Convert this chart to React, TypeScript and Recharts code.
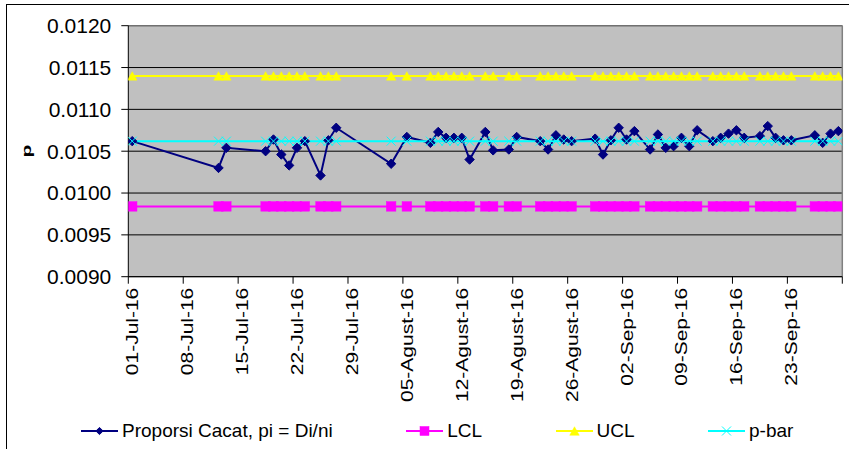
import React from 'react';
import { LineChart, Line, XAxis, YAxis, CartesianGrid, Legend, ReferenceLine, Label } from 'recharts';

// ---- data ----
const sampleDates = [
  '2016-07-01', '2016-07-12', '2016-07-13', '2016-07-18', '2016-07-19', '2016-07-20', '2016-07-21',
  '2016-07-22', '2016-07-23', '2016-07-25', '2016-07-26', '2016-07-27',
  '2016-08-03', '2016-08-05', '2016-08-08', '2016-08-09', '2016-08-10', '2016-08-11', '2016-08-12',
  '2016-08-13', '2016-08-15', '2016-08-16', '2016-08-18', '2016-08-19', '2016-08-22', '2016-08-23',
  '2016-08-24', '2016-08-25', '2016-08-26', '2016-08-29', '2016-08-30', '2016-08-31',
  '2016-09-01', '2016-09-02', '2016-09-03', '2016-09-05', '2016-09-06', '2016-09-07', '2016-09-08',
  '2016-09-09', '2016-09-10', '2016-09-11', '2016-09-13', '2016-09-14', '2016-09-15', '2016-09-16',
  '2016-09-17', '2016-09-19', '2016-09-20', '2016-09-21', '2016-09-22', '2016-09-23', '2016-09-26',
  '2016-09-27', '2016-09-28', '2016-09-29',
];

const proportions = [
  0.01062, 0.01030, 0.01054, 0.01050, 0.01064, 0.01046, 0.01033,
  0.01054, 0.01062, 0.01021, 0.01063, 0.01078,
  0.01035, 0.01067, 0.01060, 0.01073, 0.01066, 0.01066, 0.01066,
  0.01040, 0.01073, 0.01051, 0.01052, 0.01067, 0.01062, 0.01052,
  0.01069, 0.01064, 0.01062, 0.01065, 0.01046, 0.01063,
  0.01078, 0.01064, 0.01074, 0.01052, 0.01070, 0.01054, 0.01056,
  0.01066, 0.01056, 0.01075, 0.01062, 0.01066, 0.01071, 0.01075,
  0.01066, 0.01068, 0.01080, 0.01066, 0.01063, 0.01063, 0.01069,
  0.01060, 0.01071, 0.01074,
];

const LCL_VALUE = 0.00984;
const UCL_VALUE = 0.0114;
const PBAR_VALUE = 0.01062;

const xTickLabels = [
  '01-Jul-16', '08-Jul-16', '15-Jul-16', '22-Jul-16', '29-Jul-16',
  '05-Agust-16', '12-Agust-16', '19-Agust-16', '26-Agust-16',
  '02-Sep-16', '09-Sep-16', '16-Sep-16', '23-Sep-16',
];

const yTicks = [0.009, 0.0095, 0.01, 0.0105, 0.011, 0.0115, 0.012];

const seriesKeys = ['p', 'lcl', 'ucl', 'pbar'];
const seriesNames = {
  p: 'Proporsi Cacat, pi = Di/ni',
  lcl: 'LCL',
  ucl: 'UCL',
  pbar: 'p-bar',
};

// ---- derived table ----
const START = Date.UTC(2016, 6, 1);
const END = Date.UTC(2016, 8, 30);
const DAY = 86400000;
const dayIndex = (iso: string) => (Date.parse(iso + 'T00:00:00Z') - START) / DAY;
const totalDays = (END - START) / DAY; // 91

const data = sampleDates.map((d, i) => ({
  x: dayIndex(d) + 0.5,
  p: proportions[i],
  lcl: LCL_VALUE,
  ucl: UCL_VALUE,
  pbar: PBAR_VALUE,
}));

const xTicks = xTickLabels.map((_, i) => i * 7).concat([totalDays]);

const FONT = '"Liberation Sans", Arial, sans-serif';
const NAVY = '#000080';
const MAGENTA = '#FF00FF';
const YELLOW = '#FFFF00';
const CYAN = '#00FFFF';

// ---- marker shapes ----
const diamondPath = (cx: number, cy: number, r: number) =>
  `M${cx},${cy - r}L${cx + r},${cy}L${cx},${cy + r}L${cx - r},${cy}Z`;
const trianglePath = (cx: number, cy: number, w: number, h: number) =>
  `M${cx},${cy - h / 2}L${cx + w / 2},${cy + h / 2}L${cx - w / 2},${cy + h / 2}Z`;

const Marker = ({ kind, cx, cy, small }: { kind: string; cx: number; cy: number; small?: boolean }) => {
  if (cx == null || cy == null) return null;
  if (kind === 'p') {
    const r = small ? 3.6 : 4.7;
    return <path d={diamondPath(cx, cy, r)} fill={NAVY} stroke={NAVY} strokeWidth={1} />;
  }
  if (kind === 'lcl') {
    const s = small ? 9 : 9.5;
    return <rect x={cx - s / 2} y={cy - s / 2} width={s} height={s} fill={MAGENTA} stroke={MAGENTA} strokeWidth={0.5} />;
  }
  if (kind === 'ucl') {
    return <path d={trianglePath(cx, cy, 9.5, 8.5)} fill={YELLOW} stroke={YELLOW} strokeWidth={0.5} />;
  }
  const r = 4.5;
  return (
    <g stroke={CYAN} strokeWidth={1}>
      <line x1={cx - r} y1={cy - r} x2={cx + r} y2={cy + r} />
      <line x1={cx - r} y1={cy + r} x2={cx + r} y2={cy - r} />
    </g>
  );
};

const makeDot = (kind: string) => (props: any) => (
  <Marker key={`${kind}-${props.index}`} kind={kind} cx={props.cx} cy={props.cy} />
);

// ---- axis ticks ----
const XTick = (props: any) => {
  const { x, y, payload } = props;
  const idx = xTicks.indexOf(payload.value);
  const label = idx >= 0 && idx < xTickLabels.length ? xTickLabels[idx] : '';
  if (!label) return null;
  return (
    <text
      transform={`translate(${x + 3.9},${y}) rotate(-90) scale(1,0.8)`}
      textAnchor="end"
      dy="0.36em"
      fontSize={21}
      fontFamily={FONT}
      fill="#000"
    >
      {label}
    </text>
  );
};

const renderLegend = (props: any) => {
  const payload = [...(props.payload || [])].sort(
    (a: any, b: any) => seriesKeys.indexOf(a.dataKey) - seriesKeys.indexOf(b.dataKey)
  );
  return (
    <div style={{ display: 'flex', alignItems: 'center', gap: 73.5, fontFamily: FONT, fontSize: 19, color: '#000', whiteSpace: 'nowrap' }}>
      {payload.map((entry: any) => {
        const key = entry.dataKey as string;
        const color = entry.color;
        return (
          <div key={key} style={{ display: 'flex', alignItems: 'center' }}>
            <svg width={37} height={14} style={{ display: 'block' }}>
              <line x1={0} y1={7} x2={37} y2={7} stroke={color} strokeWidth={2} />
              <Marker kind={key} cx={18.5} cy={7} small />
            </svg>
            <span style={{ marginLeft: 4, lineHeight: '22px' }}>{entry.value}</span>
          </div>
        );
      })}
    </div>
  );
};

export default function App() {
  return (
    <div style={{ position: 'absolute', left: 0, top: 0, width: 849, height: 449, overflow: 'hidden', background: '#fff' }}>
      <div style={{ position: 'absolute', left: 6, top: 4, width: 900, height: 500, border: '1px solid #000', boxSizing: 'border-box' }} />
      <div style={{ position: 'absolute', left: 0, top: 0 }}>
        <LineChart
          width={849}
          height={449}
          data={data}
          margin={{ top: 25.7, right: 6.7, left: 0, bottom: 32.3 }}
        >
          <CartesianGrid vertical={false} stroke="#000" strokeWidth={1} fill="#C0C0C0" fillOpacity={1} />
          <XAxis
            type="number"
            dataKey="x"
            domain={[0, totalDays]}
            ticks={xTicks}
            interval={0}
            height={140}
            tickSize={7}
            tickMargin={4}
            tick={<XTick />}
            axisLine={{ stroke: '#000', strokeWidth: 1 }}
            tickLine={{ stroke: '#000', strokeWidth: 1 }}
            allowDataOverflow
          />
          <YAxis
            type="number"
            domain={[0.009, 0.012]}
            ticks={yTicks}
            interval={0}
            width={128.3}
            tickSize={7}
            tickMargin={10}
            tickFormatter={(v: number) => v.toFixed(4)}
            tick={{ fontSize: 21, fontFamily: FONT, fill: '#000' }}
            axisLine={{ stroke: '#000', strokeWidth: 1 }}
            tickLine={{ stroke: '#000', strokeWidth: 1 }}
            allowDataOverflow
          >
            <Label
              content={() => (
                <text
                  transform="translate(31,151) rotate(-90) scale(1,0.65)"
                  textAnchor="middle"
                  fontSize={21}
                  fontWeight="bold"
                  fontFamily={FONT}
                  fill="#000"
                >
                  p
                </text>
              )}
            />
          </YAxis>
          <ReferenceLine y={0.012} stroke="#808080" strokeWidth={1} />
          <ReferenceLine x={totalDays} stroke="#808080" strokeWidth={1.5} />
          <Line
            dataKey="p"
            name={seriesNames.p}
            stroke={NAVY}
            strokeWidth={2}
            dot={makeDot('p')}
            activeDot={false}
            isAnimationActive={false}
          />
          <Line
            dataKey="lcl"
            name={seriesNames.lcl}
            stroke={MAGENTA}
            strokeWidth={2}
            dot={makeDot('lcl')}
            activeDot={false}
            isAnimationActive={false}
          />
          <Line
            dataKey="ucl"
            name={seriesNames.ucl}
            stroke={YELLOW}
            strokeWidth={2}
            dot={makeDot('ucl')}
            activeDot={false}
            isAnimationActive={false}
          />
          <Line
            dataKey="pbar"
            name={seriesNames.pbar}
            stroke={CYAN}
            strokeWidth={2}
            dot={makeDot('pbar')}
            activeDot={false}
            isAnimationActive={false}
          />
          <Legend
            layout="horizontal"
            verticalAlign="middle"
            align="center"
            wrapperStyle={{ top: 420, left: 81, width: 768, height: 22 }}
            content={renderLegend}
          />
        </LineChart>
      </div>
    </div>
  );
}
